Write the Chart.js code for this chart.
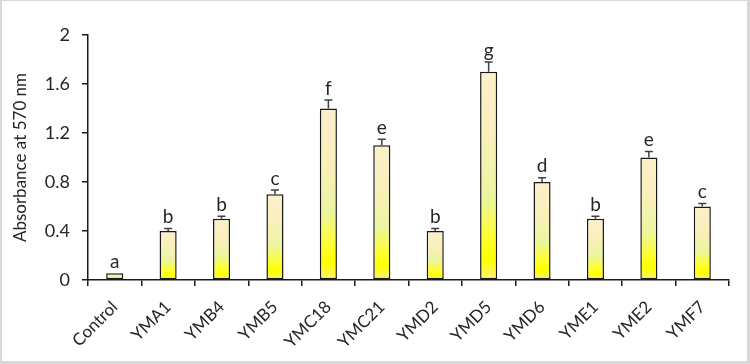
<!DOCTYPE html>
<html>
<head>
<meta charset="utf-8">
<script src="https://cdn.jsdelivr.net/npm/chart.js@4/dist/chart.umd.min.js"></script>
<style>
  html, body { margin: 0; padding: 0; background: #fff; }
  #wrap { width: 750px; height: 364px; }
</style>
</head>
<body>
<div id="wrap"><canvas id="grafico"></canvas></div>
<script>
const categorias = ['Control', 'YMA1', 'YMB4', 'YMB5', 'YMC18', 'YMC21', 'YMD2', 'YMD5', 'YMD6', 'YME1', 'YME2', 'YMF7'];
const absorbancia = [0.055, 0.40, 0.50, 0.70, 1.40, 1.10, 0.40, 1.70, 0.80, 0.50, 1.00, 0.60];
const erros = [0, 0.02, 0.02, 0.035, 0.07, 0.05, 0.02, 0.08, 0.035, 0.02, 0.05, 0.025];
const letras = ['a', 'b', 'b', 'c', 'f', 'e', 'b', 'g', 'd', 'b', 'e', 'c'];
const ticksY = [0, 0.4, 0.8, 1.2, 1.6, 2];

const fonte = "Lato, 'Open Sans', sans-serif";

// gradiente por barra: creme em cima, amarelo forte perto da base
function gradienteBarra(ctx) {
  const chart = ctx.chart;
  const y = chart.scales.y;
  if (!chart.chartArea || !y || ctx.dataIndex === undefined) return '#f5f0a0';
  const topo = y.getPixelForValue(absorbancia[ctx.dataIndex]);
  const base = y.getPixelForValue(0);
  if (!isFinite(topo) || !isFinite(base) || base - topo < 1) return '#e8ef80';
  const g = chart.ctx.createLinearGradient(0, topo, 0, base);
  g.addColorStop(0, '#fcefcc');
  g.addColorStop(0.35, '#f8f0b8');
  g.addColorStop(0.6, '#ebf5a0');
  g.addColorStop(0.8, '#ffff30');
  g.addColorStop(0.9, '#ffff00');
  g.addColorStop(1, '#fdf27a');
  return g;
}

// barras de erro e letras
const errosPlugin = {
  id: 'errosPlugin',
  afterDatasetsDraw(chart) {
    const ctx = chart.ctx;
    const y = chart.scales.y;
    const meta = chart.getDatasetMeta(0);
    ctx.save();
    ctx.strokeStyle = '#404040';
    ctx.lineWidth = 1.5;
    ctx.fillStyle = '#262626';
    ctx.font = '19px ' + fonte;
    ctx.textAlign = 'center';
    ctx.textBaseline = 'bottom';
    meta.data.forEach((bar, i) => {
      const v = absorbancia[i];
      const e = erros[i];
      const yTop = y.getPixelForValue(v + e);
      const yVal = y.getPixelForValue(v);
      if (e > 0) {
        ctx.beginPath();
        ctx.moveTo(bar.x, yVal);
        ctx.lineTo(bar.x, yTop);
        ctx.moveTo(bar.x - 4, yTop);
        ctx.lineTo(bar.x + 4, yTop);
        ctx.stroke();
      }
      ctx.fillText(letras[i], bar.x, yTop - 2);
    });
    ctx.restore();
  }
};

// fundo e moldura cinza
const moldura = {
  id: 'moldura',
  beforeDraw(chart) {
    const ctx = chart.ctx;
    const w = chart.width, h = chart.height;
    ctx.save();
    ctx.fillStyle = '#fff';
    ctx.fillRect(0, 0, w, h);
    ctx.fillStyle = '#d9d9d9';
    ctx.fillRect(0, 0, w, 1);
    ctx.fillRect(0, 0, 2, h);
    ctx.fillRect(w - 3, 0, 3, h);
    ctx.fillRect(0, h - 3, w, 3);
    ctx.restore();
  }
};

new Chart(document.getElementById('grafico'), {
  type: 'bar',
  data: {
    labels: categorias,
    datasets: [{
      data: absorbancia,
      backgroundColor: gradienteBarra,
      borderColor: '#1a1a1a',
      borderWidth: 1.5,
      borderSkipped: false,
      categoryPercentage: 1,
      barPercentage: 0.32
    }]
  },
  options: {
    responsive: true,
    maintainAspectRatio: false,
    animation: false,
    layout: { padding: { left: 0, top: 35, right: 21, bottom: 8 } },
    scales: {
      x: {
        offset: true,
        grid: { offset: true, drawOnChartArea: false, color: '#1a1a1a', lineWidth: 1.5, tickLength: 6 },
        border: { color: '#1a1a1a', width: 1.5 },
        ticks: {
          color: '#262626',
          font: { family: fonte, size: 17 },
          minRotation: 45,
          maxRotation: 45,
          padding: 11
        },
        afterFit(scale) { scale.height = 76; }
      },
      y: {
        min: 0,
        max: 2,
        afterBuildTicks(scale) { scale.ticks = ticksY.map(v => ({ value: v })); },
        grid: { drawOnChartArea: false, color: '#1a1a1a', lineWidth: 1.5, tickLength: 6 },
        border: { color: '#1a1a1a', width: 1.5 },
        ticks: {
          color: '#262626',
          font: { family: fonte, size: 18 },
          padding: 12,
          callback: v => String(Number(v.toFixed(1)))
        },
        title: {
          display: true,
          text: 'Absorbance at 570 nm',
          color: '#262626',
          font: { family: fonte, size: 17 },
          padding: { top: 10, bottom: 0 }
        },
        afterFit(scale) { scale.width = 88; }
      }
    },
    plugins: {
      legend: { display: false },
      tooltip: { enabled: false }
    }
  },
  plugins: [moldura, errosPlugin]
});
</script>
</body>
</html>
